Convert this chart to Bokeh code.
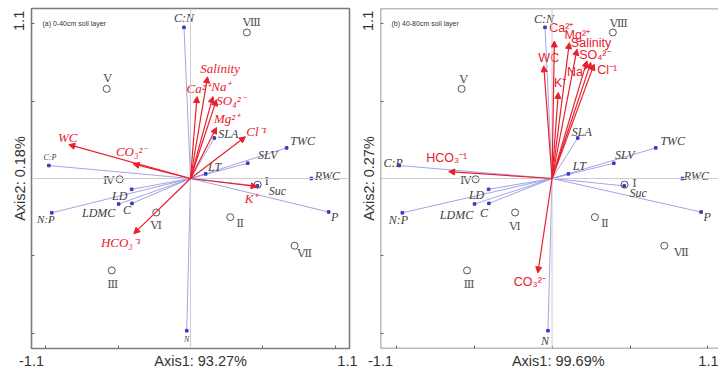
from bokeh.plotting import figure
from bokeh.models import ColumnDataSource, Arrow, NormalHead, Label, Span, FixedTicker, Range1d
from bokeh.layouts import row
from bokeh.core.properties import value
from bokeh.embed import file_html
from bokeh.resources import INLINE

# ---------------- data ----------------
site_names = ["Ⅰ", "Ⅱ", "Ⅲ", "Ⅳ", "Ⅴ", "Ⅵ", "Ⅶ", "Ⅷ"]
site_x = [0.465, 0.275, -0.545, -0.49, -0.58, -0.237, 0.72, 0.39]
site_y = [-0.04, -0.25, -0.595, -0.005, 0.58, -0.22, -0.435, 0.945]

trait_names = ["C:N", "SLA", "TWC", "SLV", "LT", "RWC", "P", "Suc", "LD", "C", "LDMC", "N:P", "C:P", "N"]
trait_x = [-0.045, 0.165, 0.665, 0.396, 0.105, 0.836, 0.956, 0.463, -0.407, -0.405, -0.497, -0.96, -0.98, -0.026]
trait_y = [0.978, 0.262, 0.198, 0.099, 0.03, 0.0, -0.217, -0.048, -0.07, -0.161, -0.165, -0.222, 0.084, -0.985]

soil_names = ["Salinity", "Ca²⁺", "Na⁺", "SO₄²⁻", "Mg²⁺", "Cl⁻¹", "WC", "CO₃²⁻", "HCO₃⁻¹", "K⁺"]
soil_a_x = [0.118, 0.045, 0.155, 0.18, 0.18, 0.38, -0.842, -0.397, -0.392, 0.461]
soil_a_y = [0.658, 0.53, 0.53, 0.51, 0.33, 0.27, 0.219, 0.095, -0.357, -0.052]
soil_b_x = [0.16, 0.015, 0.224, 0.249, 0.111, 0.27, -0.053, -0.091, -0.663, 0.04]
soil_b_y = [0.837, 0.89, 0.761, 0.75, 0.879, 0.74, 0.729, -0.611, 0.045, 0.557]

panel_titles = ["(a) 0-40cm soil layer", "(b) 40-80cm soil layer"]
axis1_titles = ["Axis1: 93.27%", "Axis1: 99.69%"]
axis2_titles = ["Axis2: 0.18%", "Axis2: 0.27%"]
range_low, range_high = "-1.1", "1.1"
axis_marks = [-1, -0.5, 0, 0.5, 1]

# ---------------- label placement (styles, px) ----------------
soil_off_a = [(12.5, 8.5), (1, 8.5), (8, 10.5), (14, -1), (10, 9), (11, 5), (-1, 7), (-2, 12), (-13, -9), (-6, -12)]
soil_off_b = [(14, 6), (7, 12.5), (-10, -11), (4, 8), (8, 8), (13, -6), (5, 7.5), (-8, -9), (-2, 13.5), (2, 9)]
trait_off_a = [(0, 9), (14, 4), (16, 7), (20, 8), (9, 7), (16, 3), (6, -5), (20, -5), (-12, -7), (-5, -7),
               (-20, -9), (-6, -6), (1, 8.5), (0, -8.5)]
trait_off_b = [(-1, 8.5), (4, 6), (17, 7), (11, 8), (11, 8), (14, 3), (6, -5), (14, -7), (-12, -6), (-5, -10),
               (-18, -11), (-4, -7), (-6, 3), (-3, -10)]
trait_size_a = ["12px"] * 11 + ["11px", "8px", "8px"]
trait_size_b = ["12px"] * 14
site_off_a = [(9, 4), (10, -6), (1, -14), (-11, -1), (1, 11), (0, -12), (10, -7.5), (5, 10)]
site_off_b = [(10, 2), (10, -6), (2, -14), (-10, -1), (2, 10), (0, -13), (17, -6.5), (6, 9)]

RED = "#e8202c"
BLUE_LINE = "#9a9ae0"
BLUE_DOT = "#3a3ac4"
GREY_TXT = "#404040"
FRAME = "#7c7c7c"
AX_TXT = "#333333"


def make_panel(idx, soil_x, soil_y, soil_off, trait_off, trait_size, site_off,
               width, min_left, min_right, x_end, title_x, high_x, red_font, red_style, red_size, outline):
    p = figure(width=width, height=371, x_range=Range1d(-1.1, x_end), y_range=Range1d(-1.1, 1.1),
               output_backend="svg", toolbar_location=None,
               min_border_left=min_left, min_border_right=min_right,
               min_border_top=8, min_border_bottom=23)
    p.grid.visible = False
    if outline:
        p.outline_line_color = FRAME
        p.outline_line_width = 1.6
    else:
        p.outline_line_color = None
        p.add_layout(Span(location=-1.1, dimension="height", line_color=FRAME, line_width=1.6))
        for loc in [1.1, -1.1]:
            p.add_layout(Span(location=loc, dimension="width", line_color=FRAME, line_width=1.6))

    # axes: tick marks as minor ticks, texts as labelled major ticks
    xa, ya = p.xaxis[0], p.yaxis[0]
    xa.ticker = FixedTicker(ticks=[-1.1, title_x, high_x], minor_ticks=axis_marks)
    xa.major_label_overrides = {-1.1: range_low, title_x: axis1_titles[idx], high_x: range_high}
    ya.ticker = FixedTicker(ticks=[0, 1.02], minor_ticks=axis_marks)
    ya.major_label_overrides = {0: axis2_titles[idx], 1.02: range_high}
    ya.major_label_orientation = "parallel"
    for ax in (xa, ya):
        ax.major_tick_in = 0
        ax.major_tick_out = 0
        ax.minor_tick_in = 3
        ax.minor_tick_out = 0
        ax.minor_tick_line_color = "#666666"
        ax.axis_line_color = None
        ax.major_label_standoff = 4
        ax.major_label_text_font = "Liberation Sans"
        ax.major_label_text_font_size = "14.5px"
        ax.major_label_text_color = AX_TXT

    # zero lines
    p.add_layout(Span(location=0, dimension="height", line_color="#ccccd8", line_width=1))
    p.add_layout(Span(location=0, dimension="width", line_color="#ccccd8", line_width=1))

    # traits (blue vectors)
    tsrc = ColumnDataSource(dict(
        x=trait_x, y=trait_y, name=trait_names,
        dx=[o[0] for o in trait_off], dy=[-o[1] for o in trait_off], fs=trait_size))
    p.segment(x0=0, y0=0, x1="x", y1="y", source=tsrc, line_color=BLUE_LINE, line_width=0.9)
    p.scatter(x="x", y="y", source=tsrc, marker="square", size=2.6, color=BLUE_DOT)
    p.text(x="x", y="y", text="name", source=tsrc, x_offset="dx", y_offset="dy",
           text_font=value("Liberation Serif"), text_font_style="italic", text_font_size="fs",
           text_color=GREY_TXT, text_align="center", text_baseline="middle")

    # soil factors (red arrows)
    ssrc = ColumnDataSource(dict(
        x=soil_x, y=soil_y, name=soil_names,
        dx=[o[0] for o in soil_off], dy=[-o[1] for o in soil_off]))
    p.add_layout(Arrow(end=NormalHead(size=6, fill_color=RED, line_color=RED, line_width=1),
                       x_start=0, y_start=0, x_end="x", y_end="y", source=ssrc,
                       line_color=RED, line_width=1.2))
    p.text(x="x", y="y", text="name", source=ssrc, x_offset="dx", y_offset="dy",
           text_font=value(red_font), text_font_style=red_style, text_font_size=red_size,
           text_color=RED, text_align="center", text_baseline="middle")

    # sites
    psrc = ColumnDataSource(dict(
        x=site_x, y=site_y, name=site_names,
        dx=[o[0] for o in site_off], dy=[-o[1] for o in site_off]))
    p.scatter(x="x", y="y", source=psrc, marker="circle", size=7, fill_color=None,
              line_color="#555555", line_width=1)
    p.text(x="x", y="y", text="name", source=psrc, x_offset="dx", y_offset="dy",
           text_font=value("DejaVu Serif"), text_font_size="11.5px", text_color="#555555",
           text_align="center", text_baseline="middle")

    p.add_layout(Label(x=-1.1, y=1.1, text=panel_titles[idx], x_offset=11, y_offset=-15,
                       text_font="Liberation Sans", text_font_size="7px", text_color=AX_TXT,
                       text_align="left", text_baseline="middle"))
    return p


pa = make_panel(0, soil_a_x, soil_a_y, soil_off_a, trait_off_a, trait_size_a, site_off_a,
                width=357, min_left=31, min_right=8, x_end=1.1, title_x=0.07, high_x=1.1,
                red_font="Liberation Serif", red_style="italic", red_size="13px", outline=True)
pb = make_panel(1, soil_b_x, soil_b_y, soil_off_b, trait_off_b, trait_size_b, site_off_b,
                width=361, min_left=22, min_right=0, x_end=1.0675, title_x=0.04, high_x=1.01,
                red_font="Liberation Sans", red_style="normal", red_size="12.5px", outline=False)

layout = row(pa, pb)
open("out.html", "w").write(file_html(layout, INLINE))
